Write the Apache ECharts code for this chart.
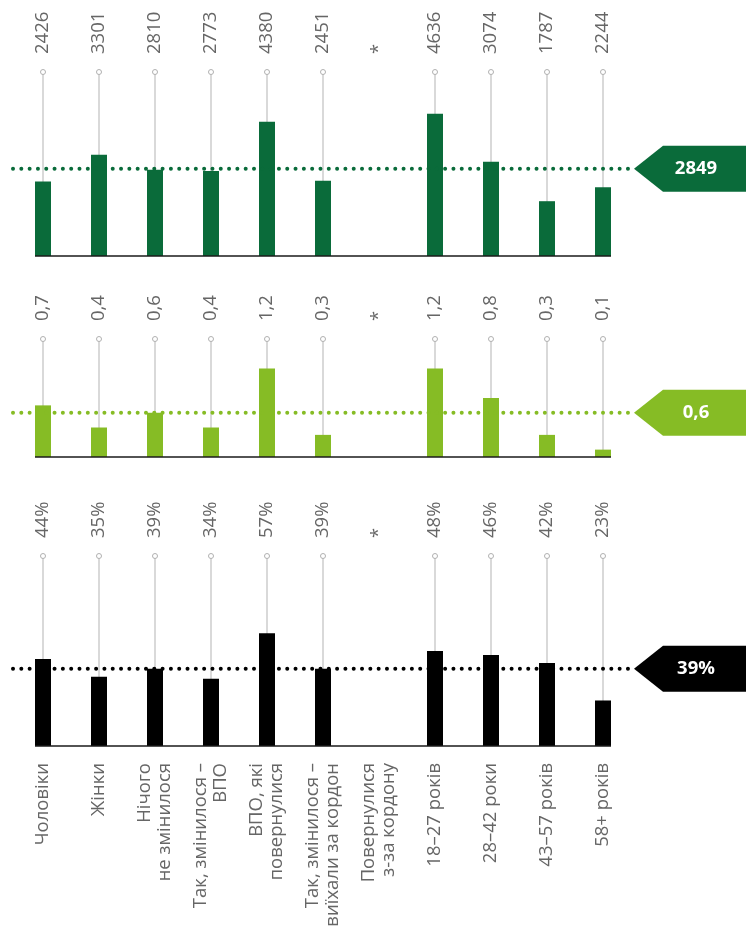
<!DOCTYPE html>
<html>
<head>
<meta charset="utf-8">
<script src="https://cdn.jsdelivr.net/npm/echarts@6/dist/echarts.min.js"></script>
<style>
  html, body { margin: 0; padding: 0; background: #fff; }
  #chart { width: 746px; height: 930px; }
</style>
</head>
<body>
<div id="chart"></div>
<script>
// Categories shared by all three panels
const categories = [
  'Чоловіки',
  'Жінки',
  'Нічого\nне змінилося',
  'Так, змінилося –\nВПО',
  'ВПО, які\nповернулися',
  'Так, змінилося –\nвиїхали за кордон',
  'Повернулися\nз-за кордону',
  '18–27 років',
  '28–42 роки',
  '43–57 років',
  '58+ років'
];

// Panel 1 values and average
const amountValues = [2426, 3301, 2810, 2773, 4380, 2451, null, 4636, 3074, 1787, 2244];
const amountAverage = 2849;

// Panel 2 values and average
const ratioValues = [0.7, 0.4, 0.6, 0.4, 1.2, 0.3, null, 1.2, 0.8, 0.3, 0.1];
const ratioAverage = 0.6;

// Panel 3 values (percent) and average
const shareValues = [44, 35, 39, 34, 57, 39, null, 48, 46, 42, 23];
const shareAverage = 39;

const FONT = '"Open Sans", "Noto Sans", sans-serif';

const panels = [
  { values: amountValues, avg: amountAverage, max: 6000, top: 72, height: 184,
    color: '#0a6b3a', fmt: v => String(v) },
  { values: ratioValues, avg: ratioAverage, max: 1.6, top: 339, height: 118,
    color: '#86bc25', fmt: v => String(v).replace('.', ',') },
  { values: shareValues, avg: shareAverage, max: 96, top: 556, height: 190,
    color: '#000000', fmt: v => v + '%' }
];

const grids = [], xAxes = [], yAxes = [], series = [];

panels.forEach((p, k) => {
  grids.push({ left: 15, width: 616, top: p.top, height: p.height });
  xAxes.push({
    type: 'category', gridIndex: k, data: categories,
    axisLine: { show: false }, axisTick: { show: false },
    axisLabel: {
      show: k === 2, rotate: 90, interval: 0, margin: 17,
      fontSize: 18.5, lineHeight: 20, color: '#666', fontFamily: FONT
    }
  });
  yAxes.push({ type: 'value', gridIndex: k, min: 0, max: p.max, show: false, splitLine: { show: false } });

  // Grey stems with a small ring on top, plus rotated value labels
  series.push({
    type: 'custom', xAxisIndex: k, yAxisIndex: k, silent: true,
    data: p.values.map((v, i) => [i, v == null ? 0 : v]),
    renderItem: (params, api) => {
      const i = api.value(0);
      const v = p.values[i];
      const top = api.coord([i, p.max]);
      const bot = api.coord([i, 0]);
      const x = top[0];
      const children = [];
      if (v != null) {
        children.push({ type: 'line', shape: { x1: x, y1: top[1], x2: x, y2: bot[1] },
          style: { stroke: '#cccccc', lineWidth: 1.5 } });
        children.push({ type: 'circle', shape: { cx: x, cy: top[1], r: 2.5 },
          style: { fill: '#fff', stroke: '#b0b0b0', lineWidth: 1 } });
      }
      children.push({ type: 'text', x: x, y: top[1] - 18, rotation: Math.PI / 2,
        style: { text: v == null ? '*' : p.fmt(v), fontSize: 18.5, fill: '#666',
          align: 'left', verticalAlign: 'middle', fontFamily: FONT } });
      return { type: 'group', children: children };
    },
    z: 1
  });

  // Bars
  series.push({
    type: 'bar', xAxisIndex: k, yAxisIndex: k, barWidth: 16,
    data: p.values, itemStyle: { color: p.color }, silent: true, z: 3
  });

  // Baseline, dotted average line and the arrow-shaped badge
  series.push({
    type: 'custom', xAxisIndex: k, yAxisIndex: k, silent: true,
    data: [[0, p.avg]],
    renderItem: (params, api) => {
      const first = api.coord([0, 0]);
      const last = api.coord([categories.length - 1, 0]);
      const y = api.coord([0, p.avg])[1];
      const W = api.getWidth();
      return { type: 'group', children: [
        { type: 'line', shape: { x1: first[0] - 8, y1: first[1], x2: last[0] + 8, y2: last[1] },
          style: { stroke: '#1a1a1a', lineWidth: 1.5 }, z2: 10 },
        { type: 'line', shape: { x1: 13, y1: y, x2: 632, y2: y },
          style: { stroke: p.color, lineWidth: 4, lineCap: 'round', lineDash: [0.01, 8.3] }, z2: 10 },
        { type: 'polygon', shape: { points: [[634, y], [663, y - 23], [W, y - 23], [W, y + 23], [663, y + 23]] },
          style: { fill: p.color }, z2: 10 },
        { type: 'text', x: 696, y: y,
          style: { text: p.fmt(p.avg), fontSize: 18.5, fontWeight: 'bold', fill: '#fff',
            align: 'center', verticalAlign: 'middle', fontFamily: FONT }, z2: 11 }
      ] };
    },
    z: 5
  });
});

const chart = echarts.init(document.getElementById('chart'), null, { renderer: 'canvas' });
chart.setOption({
  animation: false,
  grid: grids, xAxis: xAxes, yAxis: yAxes, series: series
});
</script>
</body>
</html>
